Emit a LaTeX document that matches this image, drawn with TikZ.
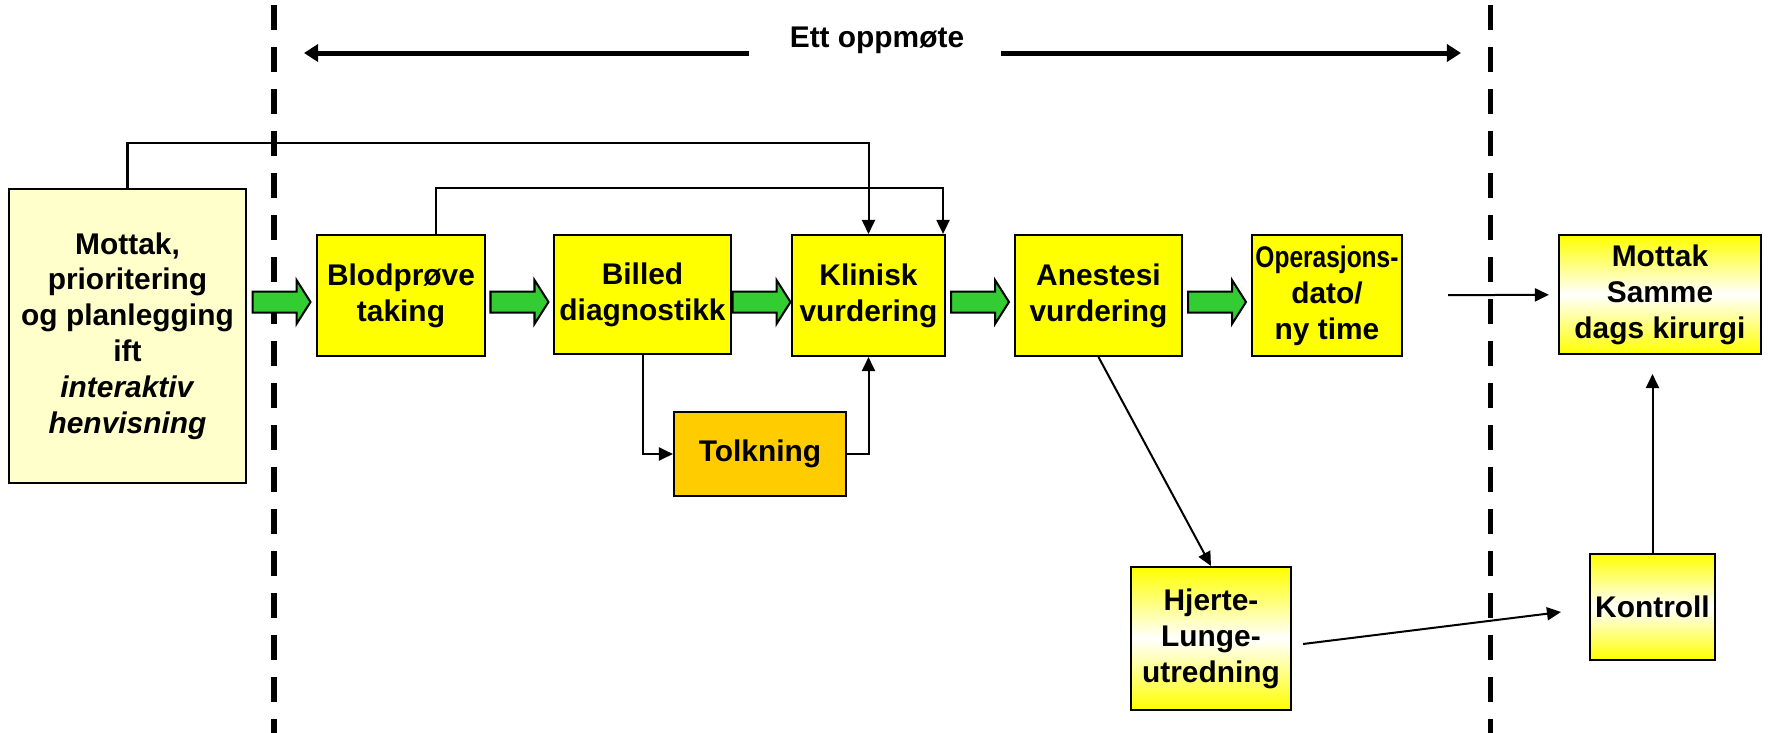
\documentclass[tikz,border=0pt]{standalone}
\usepackage{fontspec}
\setmainfont{Liberation Sans}
\usetikzlibrary{arrows.meta,calc}
\definecolor{boxyellow}{HTML}{FFFF00}
\definecolor{paleyellow}{HTML}{FFFFCC}
\definecolor{tolkorange}{HTML}{FFCC00}
\definecolor{flowgreen}{HTML}{33CC33}
% green block arrow centred in the gap between two boxes
\newcommand{\flowarrow}[2]{%
  \coordinate (fa) at ($(#1.east)!0.5!(#2.west)$);
  \draw[fill=flowgreen, line width=0.02cm] ($(fa |- flowline)+(-29,-10.5)$) -- ++(44,0) -- ++(0,-11.5) -- ++(14,22) -- ++(-14,22) -- ++(0,-11.5) -- ++(-44,0) -- cycle;}

\begin{document}
\begin{tikzpicture}[x=0.01cm, y=-0.01cm,
  box/.style={draw, line width=0.02cm, fill=boxyellow, align=center, inner sep=0pt,
    font=\bfseries\fontsize{8.5}{10.2}\selectfont},
  shadebox/.style={box, top color=boxyellow, bottom color=boxyellow, middle color=white},
  link/.style={line width=0.02cm, -{Triangle[length=0.14cm, width=0.13cm]}},
  phase/.style={line width=0.05cm, dash pattern=on 0.25cm off 0.17cm},
  span/.style={line width=0.05cm, -{Triangle[length=0.14cm, width=0.17cm]}}]

\useasboundingbox (0,0) rectangle (1768,733);

%%%%% phase limits %%%%%
\draw[phase] (274,5) -- (274,733);
\draw[phase] (1490,5) -- (1490,733);

\node[font=\bfseries\fontsize{8.5}{10.2}\selectfont] (oppmote) at (877,40) {Ett oppmøte};
\coordinate (spanL) at (304,53);
\coordinate (spanR) at (1461,53);
\draw[span] ($(oppmote.center)+(-128,13)$) -- (spanL);
\draw[span] ($(oppmote.center)+(124,13)$) -- (spanR);

%%%%% boxes %%%%%
\node[box, fill=paleyellow, minimum width=2.37cm, minimum height=2.94cm] (mottak) at (127.5,336)
  {Mottak,\\prioritering\\og planlegging\\ift\\\textit{interaktiv}\\\textit{henvisning}};
\node[box, minimum width=1.68cm, minimum height=1.21cm] (blod) at (401,295.5) {Blodprøve\\taking};
\node[box, minimum width=1.77cm, minimum height=1.19cm] (billed) at (642.5,294.5) {Billed\\diagnostikk};
\node[box, minimum width=1.53cm, minimum height=1.21cm] (klinisk) at (868.5,295.5) {Klinisk\\vurdering};
\node[box, minimum width=1.67cm, minimum height=1.21cm] (anestesi) at (1098.5,295.5) {Anestesi\\vurdering};
\node[box, minimum width=1.50cm, minimum height=1.21cm] (operasjon) at (1327,295.5)
  {\scalebox{0.82}[1]{Operasjons-}\\dato/\\ny time};
\node[shadebox, minimum width=2.02cm, minimum height=1.19cm] (samme) at (1660,294.5) {Mottak\\Samme\\dags kirurgi};
\node[box, fill=tolkorange, minimum width=1.72cm, minimum height=0.84cm] (tolkning) at (760,454) {Tolkning};
\node[shadebox, minimum width=1.60cm, minimum height=1.43cm] (hjerte) at (1211,638.5) {Hjerte-\\Lunge-\\utredning};
\node[shadebox, minimum width=1.25cm, minimum height=1.06cm] (kontroll) at (1652.5,607) {Kontroll};

%%%%% main flow %%%%%
\coordinate (flowline) at (0,302);
\flowarrow{mottak}{blod}
\flowarrow{blod}{billed}
\flowarrow{billed}{klinisk}
\flowarrow{klinisk}{anestesi}
\flowarrow{anestesi}{operasjon}

%%%%% thin links %%%%%
\draw[link] (mottak.north) -- ++(0,-45) -| (klinisk.north);
\draw[link] ($(blod.north)+(35,0)$) -- ++(0,-46) -| ($(klinisk.north east)+(-3,0)$);
\draw[link] (billed.south) |- (tolkning.west);
\draw[link] (tolkning.east) -| (klinisk.south);
\draw[link] (anestesi.south) -- (hjerte.north);
\draw[link, shorten <=0.45cm, shorten >=0.09cm] (operasjon) -- (samme);
\draw[link] ($(hjerte.east)+(11,5.5)$) -- ($(kontroll.west)+(-28,5)$);
\draw[link, shorten >=0.19cm] (kontroll.north) -- (kontroll.north |- samme.south);
\end{tikzpicture}
\end{document}
